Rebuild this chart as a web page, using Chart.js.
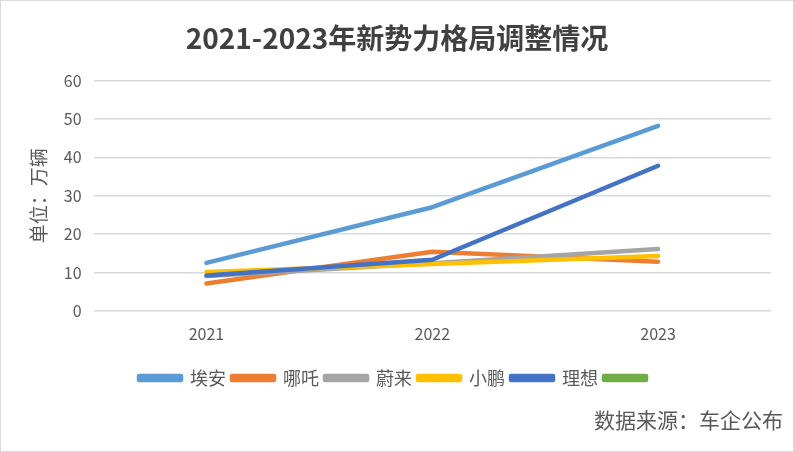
<!DOCTYPE html>
<html>
<head>
<meta charset="utf-8">
<script src="https://cdn.jsdelivr.net/npm/chart.js@4"></script>
<style>
  html, body { margin: 0; padding: 0; background: #fff; }
  #wrap { position: relative; width: 792px; height: 450px; border: 1px solid #d9d9d9; }
  #source { position: absolute; right: 10px; top: 403px; font: 21px "Noto Sans CJK SC", sans-serif; color: #595959; }
</style>
</head>
<body>
<div id="wrap">
  <canvas id="chart" width="792" height="450"></canvas>
  <div id="source">数据来源：车企公布</div>
</div>
<script>
const years = ['2021', '2022', '2023'];
const aion = [12.5, 27.0, 48.2];
const neta = [7.1, 15.4, 12.8];
const nio = [9.1, 12.4, 16.1];
const xpeng = [10.1, 12.2, 14.3];
const lixiang = [9.2, 13.3, 37.8];
const seriesNames = ['埃安', '哪吒', '蔚来', '小鹏', '理想', ''];
const seriesColors = ['#5B9BD5', '#ED7D31', '#A5A5A5', '#FFC000', '#4472C4', '#70AD47'];
const seriesData = [aion, neta, nio, xpeng, lixiang, []];

const font = '"Noto Sans CJK SC", sans-serif';
const ctx = document.getElementById('chart').getContext('2d');
new Chart(ctx, {
    type: 'line',
    data: {
        labels: years,
        datasets: seriesNames.map((name, i) => ({
            label: name,
            data: seriesData[i],
            borderColor: seriesColors[i],
            backgroundColor: seriesColors[i],
            borderWidth: 4.5,
            borderCapStyle: 'round',
            borderJoinStyle: 'round',
            pointRadius: 0,
            tension: 0,
            order: 10 - i
        }))
    },
    options: {
        responsive: false,
        animation: false,
        layout: { padding: { left: 22, right: 22, top: 10, bottom: 54 } },
        plugins: {
            title: {
                display: true,
                text: '2021-2023年新势力格局调整情况',
                color: '#404040',
                font: { family: font, size: 28, weight: 'bold' },
                padding: { top: 11, bottom: 25 }
            },
            legend: {
                position: 'bottom',
                labels: {
                    color: '#595959',
                    font: { family: font, size: 18 },
                    boxWidth: 42,
                    boxHeight: 4,
                    padding: 6,
                    sort: (a, b) => a.datasetIndex - b.datasetIndex
                }
            },
            tooltip: { enabled: false }
        },
        scales: {
            x: {
                offset: true,
                grid: { display: false },
                border: { display: false },
                ticks: { color: '#595959', font: { family: font, size: 16 }, padding: 6 },
                afterFit: (scale) => { scale.height += 13; }
            },
            y: {
                min: 0,
                max: 60,
                ticks: { stepSize: 10, color: '#595959', font: { family: font, size: 16 }, padding: 12 },
                grid: { color: '#d9d9d9', lineWidth: 1.5, drawTicks: false },
                border: { display: false },
                title: {
                    display: true,
                    text: '单位：万辆',
                    color: '#595959',
                    font: { family: font, size: 19 },
                    padding: { bottom: 2 }
                }
            }
        }
    }
});
</script>
</body>
</html>
